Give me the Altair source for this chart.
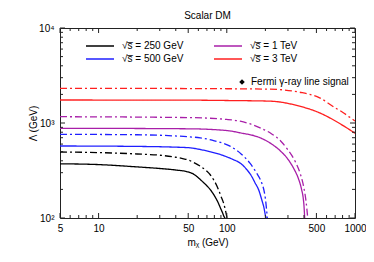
import altair as alt
import pandas as pd

W, H = 295, 190
FONT = "Liberation Sans"

# ---- data ----
series_labels = ["√s̅ = 250 GeV", "√s̅ = 500 GeV", "√s̅ = 1 TeV", "√s̅ = 3 TeV"]
series_colors = ["#000000", "#1f1fff", "#a81fa8", "#ff1f1f"]
line_types = ["solid", "dashdot"]

m_250_solid = [5, 10, 20, 30, 40, 50, 55, 60, 65, 70, 75, 80, 85, 90, 93, 95, 97]
L_250_solid = [372, 365, 345, 332, 320, 305, 290, 265, 240, 218, 196, 172, 148, 124, 112, 104, 100]
m_250_dash = [5, 10, 20, 30, 40, 46, 50, 55, 62, 70, 74, 80, 86, 90, 94, 97, 99, 100.5]
L_250_dash = [495, 488, 472, 458, 436, 420, 408, 385, 351, 310, 287, 245, 200, 170, 146, 125, 110, 100]

m_500_solid = [5, 20, 50, 62, 75, 89, 100, 112, 130, 143, 155, 166, 178, 187, 195, 201, 203]
L_500_solid = [573, 567, 550, 526, 497, 466, 440, 413, 370, 324, 280, 235, 195, 157, 128, 104, 100]
m_500_dash = [5, 20, 50, 62, 80, 106, 130, 151, 170, 187, 195, 200, 204, 207]
L_500_dash = [760, 752, 716, 699, 650, 570, 470, 380, 300, 235, 195, 160, 125, 100]

m_1000_solid = [5, 50, 100, 127, 182, 220, 263, 300, 336, 360, 383, 395, 400, 405]
L_1000_solid = [880, 869, 833, 788, 699, 610, 505, 415, 324, 265, 200, 160, 135, 100]
m_1000_dash = [5, 50, 100, 127, 182, 220, 263, 300, 346, 375, 397, 415, 428]
L_1000_dash = [1165, 1140, 1090, 1045, 889, 780, 646, 520, 380, 290, 216, 150, 100]

m_3000_solid = [5, 50, 100, 217, 370, 530, 600, 720, 850, 1000]
L_3000_solid = [1746, 1740, 1725, 1698, 1503, 1278, 1180, 1030, 900, 780]
m_3000_dash = [5, 50, 100, 217, 370, 530, 700, 800, 900, 1000]
L_3000_dash = [2320, 2305, 2295, 2270, 2109, 1840, 1445, 1300, 1160, 1050]

fermi_label = ["Fermi γ-ray line signal"]
fermi_m = [130]
fermi_L = [50]  # outside the plotted range

x_major = [5, 10, 50, 100, 500, 1000]
x_minor = [6, 7, 8, 9, 20, 30, 40, 60, 70, 80, 90, 200, 300, 400, 600, 700, 800, 900]
y_major = [100, 1000, 10000]
y_minor = [200, 300, 400, 500, 600, 700, 800, 900, 2000, 3000, 4000, 5000, 6000, 7000, 8000, 9000]

curves = [
    (series_labels[0], "solid", m_250_solid, L_250_solid),
    (series_labels[0], "dashdot", m_250_dash, L_250_dash),
    (series_labels[1], "solid", m_500_solid, L_500_solid),
    (series_labels[1], "dashdot", m_500_dash, L_500_dash),
    (series_labels[2], "solid", m_1000_solid, L_1000_solid),
    (series_labels[2], "dashdot", m_1000_dash, L_1000_dash),
    (series_labels[3], "solid", m_3000_solid, L_3000_solid),
    (series_labels[3], "dashdot", m_3000_dash, L_3000_dash),
]
rows = []
for lab, typ, ms, Ls in curves:
    for i, (m, L) in enumerate(zip(ms, Ls)):
        rows.append({"series": lab, "type": typ, "m": m, "L": L, "order": i})
df = pd.DataFrame(rows)

xs = alt.Scale(type="log", domain=[5, 1000], nice=False)
ys = alt.Scale(type="log", domain=[100, 10000], nice=False)

lines = alt.Chart(df).mark_line(strokeWidth=1.3, clip=True, interpolate="monotone").encode(
    x=alt.X("m:Q", scale=xs, axis=alt.Axis(
        values=x_major, format="d", ticks=False, tickSize=0, domain=False, grid=False,
        labelFlush=False, labelOverlap=False,
        labelFont=FONT, labelFontSize=10, labelPadding=5, labelColor="black",
        title="mᵪ  (GeV)", titleFont=FONT, titleFontSize=10, titleFontWeight="normal",
        titlePadding=4, titleColor="black")),
    y=alt.Y("L:Q", scale=ys, axis=alt.Axis(
        values=y_major, ticks=False, tickSize=0, domain=False, grid=False,
        labelFlush=False, labelOverlap=False,
        labelExpr="datum.value == 100 ? '10²' : (datum.value == 1000 ? '10³' : '10⁴')",
        labelFont=FONT, labelFontSize=10, labelPadding=6, labelColor="black",
        title="Λ (GeV)", titleFont=FONT, titleFontSize=10, titleFontWeight="normal",
        titleX=-27, titleY=95, titleAngle=270, titleAlign="center", titleBaseline="middle",
        titleColor="black")),
    color=alt.Color("series:N", scale=alt.Scale(domain=series_labels, range=series_colors),
                    sort=series_labels,
                    legend=alt.Legend(orient="none", legendX=32, legendY=10, columns=2,
                                      title=None, symbolType="M-2,0L2,0", symbolSize=196,
                                      symbolStrokeWidth=1.5, labelFont=FONT, labelFontSize=10,
                                      labelColor="black", labelOffset=14, columnPadding=27,
                                      rowPadding=0)),
    strokeDash=alt.StrokeDash("type:N", scale=alt.Scale(domain=line_types, range=[[1, 0], [7, 3, 2, 3]]),
                              legend=None),
    order="order:Q",
)

fermi_df = pd.DataFrame({"label": fermi_label, "m": fermi_m, "L": fermi_L})
fermi = alt.Chart(fermi_df).mark_point(filled=True, clip=True, size=30, opacity=1).encode(
    x=alt.X("m:Q", scale=xs),
    y=alt.Y("L:Q", scale=ys),
    shape=alt.Shape("label:N", scale=alt.Scale(range=["diamond"]),
                    legend=alt.Legend(orient="none", legendX=177, legendY=49, title=None,
                                      symbolFillColor="black", symbolStrokeColor="black",
                                      symbolOpacity=1, symbolSize=30, labelFont=FONT,
                                      labelFontSize=10, labelColor="black", labelOffset=4)),
    color=alt.value("black"),
)

def tick_layer(vals, axis, side, length):
    d = pd.DataFrame({"v": vals})
    c = alt.Chart(d).mark_rule(color="#222", strokeWidth=1)
    if axis == "x":
        y0 = H if side == "bottom" else 0
        y1 = H - length if side == "bottom" else length
        return c.encode(x=alt.X("v:Q", scale=xs), y=alt.value(y0), y2=alt.value(y1))
    else:
        x0 = 0 if side == "left" else W
        x1 = length if side == "left" else W - length
        return c.encode(y=alt.Y("v:Q", scale=ys), x=alt.value(x0), x2=alt.value(x1))

ticks = [
    tick_layer(x_major, "x", "bottom", 5), tick_layer(x_minor, "x", "bottom", 3),
    tick_layer(x_major, "x", "top", 5), tick_layer(x_minor, "x", "top", 3),
    tick_layer(y_major, "y", "left", 5), tick_layer(y_minor, "y", "left", 3),
    tick_layer(y_major, "y", "right", 5), tick_layer(y_minor, "y", "right", 3),
]

chart = alt.layer(lines, fermi, *ticks).resolve_legend(color="independent", shape="independent").properties(
    width=W, height=H,
    title=alt.Title("Scalar DM", font=FONT, fontSize=10, fontWeight="normal", color="black",
                    anchor="middle", offset=2),
    autosize=alt.AutoSizeParams(type="none"),
    padding={"left": 52, "top": 20, "right": 11, "bottom": 36},
).configure_view(stroke="#222", strokeWidth=1).configure_axis(labelFont=FONT)

chart.save("out.html", embed_options={"renderer": "svg", "actions": False})
